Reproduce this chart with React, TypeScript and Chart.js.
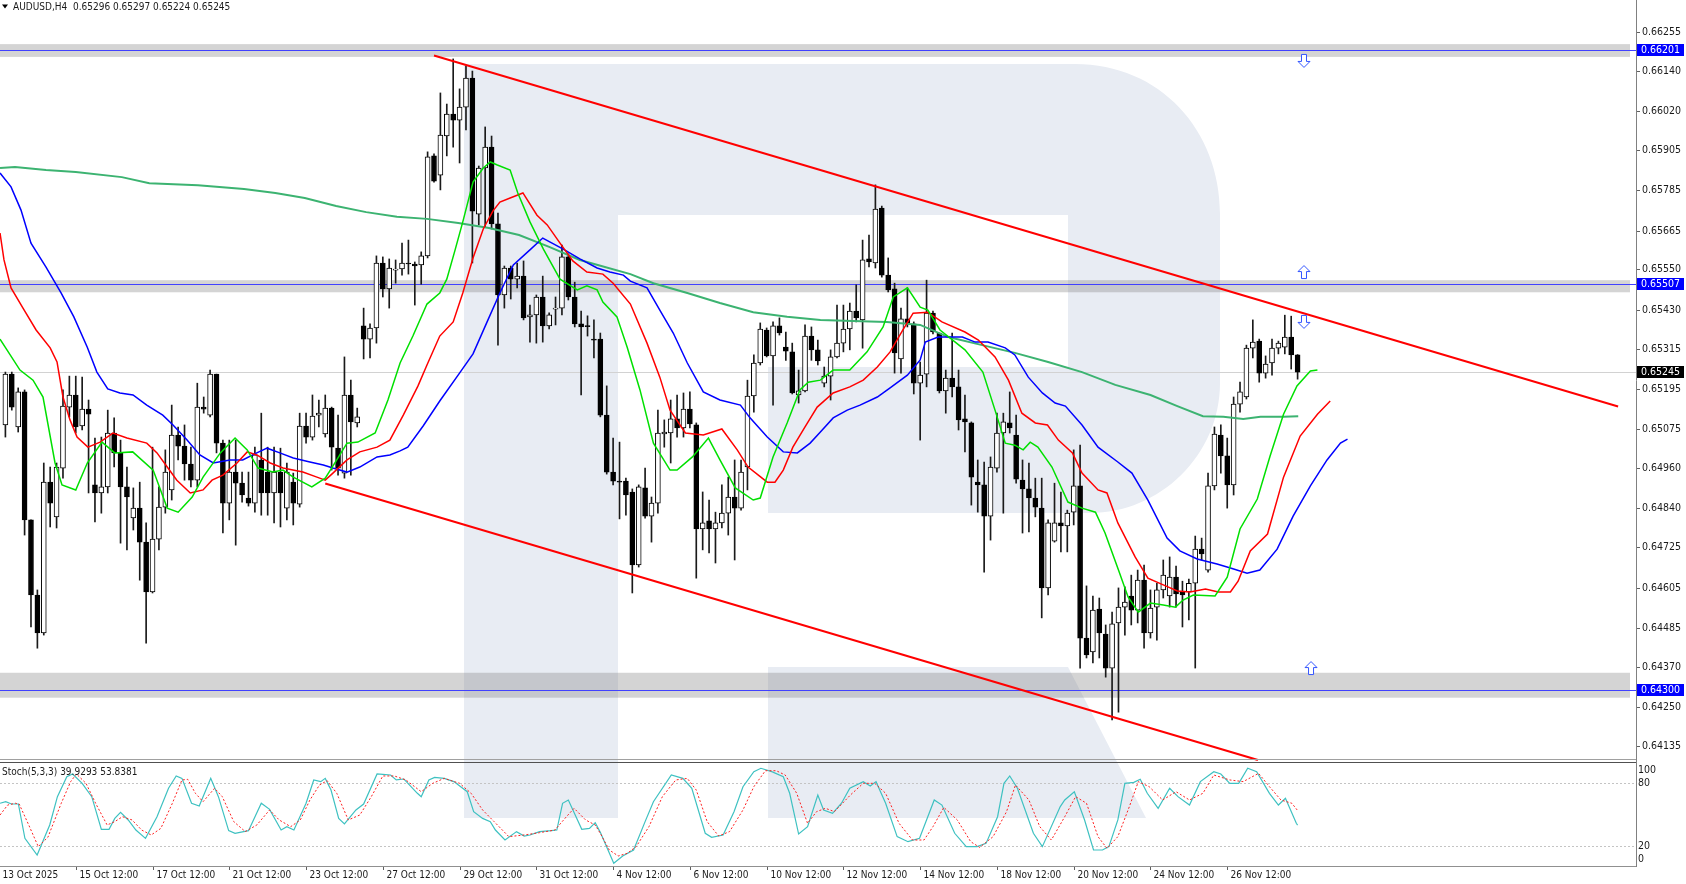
import React, { useEffect, useRef } from "react";
import { Chart, registerables } from "chart.js";

Chart.register(...registerables);

const FONT = "Tahoma, 'DejaVu Sans Condensed', 'Liberation Sans', Arial, sans-serif";

const symbolTitle = "AUDUSD,H4  0.65296 0.65297 0.65224 0.65245";
const stochTitle = "Stoch(5,3,3) 39.9293 53.8381";

// ---- candles (H4 bars, first visible bar index = 1) ----
const firstBar = 1;
const opens = [
  0.65088, 0.65239, 0.65082, 0.65186, 0.64806, 0.64583, 0.6447, 0.64918, 0.64815, 0.6496,
  0.65141, 0.65177, 0.65085, 0.65135, 0.6491, 0.64886, 0.64904, 0.65064, 0.65005, 0.64904,
  0.64812, 0.64841, 0.6474, 0.64592, 0.64749, 0.64844, 0.64895, 0.65058, 0.65025, 0.64972,
  0.64924, 0.65141, 0.65117, 0.65239, 0.65034, 0.64856, 0.64948, 0.64915, 0.64871, 0.64856,
  0.64984, 0.64948, 0.64886, 0.64948, 0.64841, 0.64918, 0.64853, 0.65085, 0.65052, 0.65117,
  0.65061, 0.65138, 0.65019, 0.64945, 0.65177, 0.65094, 0.65382, 0.65343, 0.65376, 0.65569,
  0.65492, 0.65548, 0.65551, 0.65569, 0.65566, 0.65563, 0.6559, 0.65887, 0.6583, 0.65946,
  0.66011, 0.65993, 0.66032, 0.66118, 0.65714, 0.65851, 0.65913, 0.65685, 0.65474, 0.65554,
  0.65521, 0.6553, 0.65409, 0.65415, 0.65468, 0.65382, 0.65432, 0.65435, 0.65587, 0.65468,
  0.65388, 0.65382, 0.65343, 0.65343, 0.65117, 0.64948, 0.64921, 0.64921, 0.64889, 0.64672,
  0.64901, 0.64817, 0.64856, 0.65061, 0.65064, 0.65106, 0.65079, 0.65135, 0.65088, 0.64779,
  0.64803, 0.64779, 0.64797, 0.64826, 0.64874, 0.64841, 0.64963, 0.65174, 0.65272, 0.6537,
  0.65293, 0.65382, 0.65319, 0.65305, 0.65177, 0.65189, 0.65352, 0.65311, 0.65212, 0.65233,
  0.6529, 0.65331, 0.65373, 0.65426, 0.654, 0.65581, 0.65569, 0.65732, 0.65533, 0.65492,
  0.65284, 0.65403, 0.65388, 0.65212, 0.65239, 0.6542, 0.65361, 0.65189, 0.65227, 0.65201,
  0.65106, 0.65094, 0.64918, 0.6491, 0.64817, 0.6496, 0.65064, 0.65094, 0.65058, 0.64924,
  0.64898, 0.64871, 0.64841, 0.64604, 0.64743, 0.64797, 0.64788, 0.64829, 0.64907, 0.64455,
  0.64414, 0.64541, 0.64467, 0.64366, 0.645, 0.64547, 0.6458, 0.64538, 0.64627, 0.6447,
  0.64547, 0.64598, 0.6458, 0.64636, 0.64592, 0.64592, 0.64618, 0.64719, 0.64657, 0.64907,
  0.65058, 0.64996, 0.6491, 0.6515, 0.65171, 0.65316, 0.65337, 0.65242, 0.65272, 0.65316,
  0.65319, 0.65349, 0.65296,
];
const highs = [
  0.65245, 0.65245, 0.65198, 0.65192, 0.64806, 0.64598, 0.64975, 0.64963, 0.64975, 0.65192,
  0.65233, 0.65233, 0.6523, 0.65162, 0.65049, 0.65052, 0.65132, 0.65109, 0.65043, 0.64963,
  0.64901, 0.64918, 0.64797, 0.65022, 0.64904, 0.65014, 0.65147, 0.65082, 0.65088, 0.65022,
  0.65212, 0.65171, 0.65251, 0.65239, 0.65043, 0.65043, 0.65043, 0.64948, 0.64948, 0.65022,
  0.65123, 0.65022, 0.65022, 0.65019, 0.64975, 0.64945, 0.65123, 0.65123, 0.65177, 0.65162,
  0.65177, 0.65141, 0.65117, 0.6529, 0.65221, 0.65138, 0.65435, 0.65388, 0.6559, 0.65587,
  0.65581, 0.65578, 0.65628, 0.65637, 0.65572, 0.65602, 0.65899, 0.65893, 0.66074, 0.66041,
  0.66175, 0.66086, 0.66154, 0.66139, 0.65857, 0.65973, 0.65946, 0.65717, 0.6556, 0.6556,
  0.65569, 0.65575, 0.65444, 0.65474, 0.6553, 0.65421, 0.65468, 0.65622, 0.65596, 0.65512,
  0.65426, 0.65412, 0.654, 0.65361, 0.65204, 0.65049, 0.65037, 0.6493, 0.64898, 0.6491,
  0.6496, 0.64874, 0.65132, 0.65103, 0.65162, 0.65177, 0.65183, 0.65186, 0.65094, 0.64889,
  0.64865, 0.64829, 0.6491, 0.64933, 0.64984, 0.64984, 0.65221, 0.65296, 0.65391, 0.65376,
  0.65394, 0.65406, 0.65364, 0.65331, 0.65251, 0.65385, 0.65379, 0.6534, 0.6526, 0.65311,
  0.65444, 0.65444, 0.6545, 0.65504, 0.65637, 0.65652, 0.65801, 0.65738, 0.65584, 0.65509,
  0.65435, 0.65495, 0.65394, 0.65275, 0.65518, 0.65426, 0.65361, 0.65251, 0.65361, 0.65251,
  0.65177, 0.65097, 0.64984, 0.64978, 0.64993, 0.65123, 0.65123, 0.65186, 0.65117, 0.64984,
  0.64975, 0.6493, 0.6493, 0.64806, 0.64915, 0.64889, 0.64835, 0.65014, 0.65028, 0.6461,
  0.6458, 0.64574, 0.64494, 0.64532, 0.64604, 0.64607, 0.64642, 0.64657, 0.64672, 0.64598,
  0.64618, 0.64687, 0.64696, 0.64669, 0.64624, 0.6463, 0.64758, 0.64752, 0.64945, 0.65082,
  0.65088, 0.65049, 0.65171, 0.65215, 0.65325, 0.654, 0.65343, 0.65293, 0.65343, 0.65337,
  0.65414, 0.65411, 0.65297,
];
const lows = [
  0.65052, 0.65132, 0.65067, 0.64761, 0.64488, 0.64425, 0.64464, 0.64785, 0.64782, 0.6493,
  0.65112, 0.65064, 0.65073, 0.64886, 0.648, 0.64826, 0.64886, 0.64963, 0.64737, 0.64717,
  0.64776, 0.64627, 0.6444, 0.64589, 0.64717, 0.64826, 0.64865, 0.64984, 0.64924, 0.64904,
  0.64904, 0.65123, 0.65112, 0.65005, 0.64767, 0.64806, 0.64731, 0.64859, 0.64847, 0.64829,
  0.6482, 0.6482, 0.64797, 0.64785, 0.64806, 0.64791, 0.64844, 0.65034, 0.65043, 0.65082,
  0.65052, 0.64954, 0.64939, 0.6493, 0.64939, 0.65082, 0.65284, 0.65287, 0.65331, 0.65468,
  0.65435, 0.65509, 0.65533, 0.65536, 0.65444, 0.65506, 0.65584, 0.65809, 0.65786, 0.65887,
  0.65913, 0.65866, 0.65964, 0.65569, 0.65682, 0.65676, 0.6567, 0.65325, 0.65435, 0.65462,
  0.65495, 0.654, 0.65334, 0.65331, 0.65334, 0.65373, 0.65385, 0.65415, 0.65459, 0.65379,
  0.65177, 0.65352, 0.65287, 0.65112, 0.64942, 0.6491, 0.64809, 0.6482, 0.64589, 0.64666,
  0.64811, 0.6474, 0.64826, 0.65022, 0.64975, 0.65052, 0.65052, 0.65079, 0.64633, 0.64717,
  0.64708, 0.64678, 0.64782, 0.64761, 0.64687, 0.64835, 0.64895, 0.65126, 0.65266, 0.6529,
  0.65147, 0.65355, 0.6528, 0.6518, 0.65153, 0.65186, 0.6528, 0.65266, 0.65201, 0.65162,
  0.65287, 0.65305, 0.65311, 0.65394, 0.65316, 0.65557, 0.65554, 0.65527, 0.65483, 0.65242,
  0.65242, 0.65379, 0.6518, 0.65043, 0.65201, 0.65358, 0.65183, 0.65123, 0.65171, 0.65073,
  0.65008, 0.6485, 0.64829, 0.64651, 0.64746, 0.64948, 0.64826, 0.65064, 0.64915, 0.64767,
  0.6477, 0.64815, 0.64515, 0.64583, 0.6474, 0.64711, 0.64711, 0.64791, 0.64366, 0.64396,
  0.64381, 0.64396, 0.64339, 0.64212, 0.64235, 0.64464, 0.64494, 0.645, 0.64425, 0.64455,
  0.64449, 0.64574, 0.64547, 0.64547, 0.64488, 0.64509, 0.64366, 0.64687, 0.64651, 0.64895,
  0.64945, 0.64841, 0.6488, 0.65126, 0.65165, 0.65287, 0.65215, 0.65227, 0.65236, 0.65299,
  0.65299, 0.65254, 0.65224,
];
const closes = [
  0.65239, 0.65141, 0.65186, 0.64806, 0.64583, 0.6447, 0.64918, 0.64856, 0.64963, 0.65144,
  0.65177, 0.65082, 0.65135, 0.6512, 0.64886, 0.64904, 0.65064, 0.65005, 0.64904, 0.64874,
  0.64841, 0.6474, 0.64592, 0.64749, 0.64844, 0.64948, 0.65058, 0.65025, 0.64972, 0.64924,
  0.65141, 0.65135, 0.65239, 0.65034, 0.64856, 0.64948, 0.64915, 0.6488, 0.64856, 0.64999,
  0.64886, 0.64886, 0.64948, 0.64886, 0.64948, 0.64856, 0.65085, 0.65052, 0.65114, 0.65123,
  0.65138, 0.65022, 0.6496, 0.65177, 0.65097, 0.65112, 0.65343, 0.65376, 0.65569, 0.65492,
  0.65554, 0.65551, 0.65569, 0.65566, 0.6556, 0.6559, 0.65884, 0.65812, 0.65949, 0.66011,
  0.65993, 0.66032, 0.66118, 0.65723, 0.65851, 0.65913, 0.65685, 0.65474, 0.65554, 0.65521,
  0.6553, 0.65406, 0.65415, 0.65468, 0.65382, 0.65415, 0.65435, 0.65587, 0.65468, 0.65388,
  0.65379, 0.6538, 0.6534, 0.65117, 0.64948, 0.64921, 0.64918, 0.6488, 0.64672, 0.64904,
  0.64817, 0.64856, 0.65064, 0.65067, 0.65106, 0.65079, 0.65135, 0.65091, 0.64779, 0.64797,
  0.64779, 0.64797, 0.64826, 0.64874, 0.64841, 0.64948, 0.65174, 0.65272, 0.65373, 0.65293,
  0.65382, 0.65361, 0.65307, 0.65183, 0.65189, 0.65352, 0.65311, 0.65278, 0.65233, 0.6529,
  0.65331, 0.65373, 0.65426, 0.65406, 0.65578, 0.65572, 0.65729, 0.65533, 0.65489, 0.65302,
  0.65403, 0.65388, 0.65212, 0.65236, 0.6542, 0.65364, 0.65189, 0.65227, 0.65201, 0.65103,
  0.65097, 0.64933, 0.6491, 0.64817, 0.64963, 0.65064, 0.65097, 0.65079, 0.64927, 0.64898,
  0.64871, 0.64844, 0.64604, 0.64797, 0.64797, 0.64788, 0.64826, 0.64907, 0.64455, 0.64405,
  0.64538, 0.6447, 0.64366, 0.64497, 0.64547, 0.64562, 0.64538, 0.64627, 0.6447, 0.64544,
  0.64598, 0.64642, 0.64636, 0.64586, 0.64583, 0.64618, 0.64719, 0.64705, 0.64907, 0.65061,
  0.64996, 0.6491, 0.6515, 0.65186, 0.65316, 0.65334, 0.65242, 0.65269, 0.65316, 0.65331,
  0.65349, 0.65296, 0.65245,
];

// ---- indicator lines: [bar, value] ----
const lipsLine = [
  [0.16, 0.65343], [3.28, 0.65251], [5.32, 0.65221], [6.88, 0.65171], [8.76, 0.64975], [9.85, 0.6491],
  [12.0, 0.64895], [13.8, 0.64975], [16.1, 0.65037], [18.1, 0.65005], [20.9, 0.65008], [24.1, 0.64954],
  [26.3, 0.64841], [28.0, 0.64829], [30.2, 0.64874], [31.9, 0.64933], [34.6, 0.65005], [36.9, 0.65049],
  [38.8, 0.65014], [40.5, 0.6496], [42.8, 0.64948], [44.4, 0.64954], [46.0, 0.64933], [48.9, 0.64904],
  [51.0, 0.6493], [52.8, 0.64984], [54.4, 0.65034], [56.1, 0.65037], [58.8, 0.65064], [60.8, 0.65162],
  [62.7, 0.65272], [64.7, 0.65352], [66.9, 0.65447], [68.9, 0.6548], [70.0, 0.65521], [71.3, 0.65608],
  [72.5, 0.65691], [74.1, 0.65809], [75.7, 0.65851], [76.8, 0.65869], [77.9, 0.6586], [79.9, 0.65845],
  [81.1, 0.65777], [83.0, 0.65691], [85.1, 0.6561], [87.7, 0.65521], [90.4, 0.65489], [91.9, 0.65501],
  [93.5, 0.65489], [94.4, 0.65453], [96.6, 0.65409], [98.2, 0.65319], [100.2, 0.65192], [102.3, 0.65034],
  [104.9, 0.64954], [106.0, 0.64954], [108.4, 0.64993], [110.9, 0.65049], [112.7, 0.64984], [115.1, 0.64901],
  [117.9, 0.64865], [119.0, 0.64871], [121.0, 0.64993], [123.2, 0.65094], [125.2, 0.65192], [126.5, 0.65215],
  [128.4, 0.65221], [130.4, 0.65251], [133.0, 0.65251], [135.7, 0.65305], [138.2, 0.65379], [139.8, 0.65468],
  [142.0, 0.65495], [144.0, 0.65438], [145.2, 0.65429], [147.1, 0.6537], [151.0, 0.65311], [153.8, 0.65245],
  [155.7, 0.65132], [157.3, 0.65034], [158.8, 0.65028], [160.1, 0.65014], [161.2, 0.65037], [162.4, 0.65022],
  [164.6, 0.64963], [167.1, 0.64859], [169.3, 0.64841], [171.4, 0.64829], [172.9, 0.64767], [175.0, 0.64657],
  [176.5, 0.64577], [178.1, 0.64532], [180.0, 0.64559], [182.0, 0.64553], [183.9, 0.64547], [185.1, 0.64568],
  [186.7, 0.64583], [190.1, 0.6458], [192.0, 0.64636], [194.0, 0.64779], [196.7, 0.64868], [198.7, 0.64996],
  [200.8, 0.6512], [202.9, 0.65204], [205.0, 0.65248], [206.1, 0.65251],
];
const teethLine = [
  [0.16, 0.65658], [0.78, 0.65578], [1.88, 0.65495], [3.75, 0.65435], [5.8, 0.6537], [8.0, 0.65317],
  [9.07, 0.65275], [10.0, 0.65171], [11.1, 0.65103], [12.2, 0.65052], [13.9, 0.65022], [15.8, 0.65037],
  [17.8, 0.65064], [20.0, 0.65049], [23.1, 0.65034], [24.7, 0.65005], [26.3, 0.64963], [27.8, 0.64924],
  [29.9, 0.64886], [31.9, 0.64895], [33.3, 0.64924], [35.0, 0.64939], [37.2, 0.64975], [38.8, 0.65008],
  [40.3, 0.64999], [42.4, 0.64975], [44.4, 0.6496], [47.5, 0.64948], [49.7, 0.64933], [51.0, 0.64924],
  [52.2, 0.64945], [54.4, 0.64984], [56.4, 0.65008], [59.1, 0.65022], [61.1, 0.65043], [63.2, 0.65117],
  [65.5, 0.65204], [66.9, 0.65266], [68.9, 0.65352], [71.0, 0.65394], [72.5, 0.6548], [74.1, 0.65584],
  [75.7, 0.6567], [77.2, 0.65723], [78.3, 0.6575], [79.9, 0.65762], [81.9, 0.65777], [84.1, 0.65711],
  [85.7, 0.65682], [87.7, 0.65628], [89.7, 0.65575], [91.9, 0.65542], [94.4, 0.65536], [96.0, 0.65509],
  [98.7, 0.65447], [101.3, 0.65331], [103.3, 0.6523], [104.9, 0.65132], [107.3, 0.65064], [110.1, 0.65058],
  [113.0, 0.65076], [115.4, 0.65014], [117.1, 0.64963], [120.1, 0.64918], [121.3, 0.64918], [122.6, 0.64954],
  [124.1, 0.65022], [126.0, 0.65082], [127.9, 0.65141], [130.4, 0.65183], [133.0, 0.65201], [135.1, 0.65221],
  [137.3, 0.6526], [139.3, 0.65305], [141.3, 0.6537], [142.9, 0.6542], [145.2, 0.65423], [147.4, 0.65394],
  [151.0, 0.65364], [153.1, 0.6534], [155.7, 0.6529], [157.8, 0.65221], [159.9, 0.65123], [162.0, 0.65094],
  [163.9, 0.65088], [165.6, 0.65043], [167.8, 0.65005], [169.3, 0.64945], [171.8, 0.64895], [173.2, 0.64886],
  [174.9, 0.64797], [177.6, 0.64696], [179.6, 0.64633], [182.0, 0.64613], [184.2, 0.64595], [186.2, 0.64592],
  [188.6, 0.64601], [190.6, 0.64592], [192.5, 0.64592], [193.7, 0.64624], [195.6, 0.64714], [198.3, 0.64764],
  [200.8, 0.64933], [203.4, 0.65055], [206.1, 0.6512], [208.1, 0.65159],
];
const jawLine = [
  [0.16, 0.65836], [1.88, 0.65795], [3.44, 0.65726], [5.0, 0.65628], [7.35, 0.65557], [9.7, 0.6548],
  [11.7, 0.65409], [13.8, 0.65319], [15.3, 0.65245], [17.0, 0.65195], [18.9, 0.65183], [20.95, 0.65177],
  [23.1, 0.65147], [25.6, 0.65117], [27.2, 0.65088], [29.4, 0.65043], [31.4, 0.64999], [33.5, 0.64975],
  [36.1, 0.64984], [38.1, 0.64984], [40.3, 0.65005], [41.9, 0.65019], [43.9, 0.65005], [46.0, 0.6499],
  [48.6, 0.64978], [50.7, 0.64969], [52.2, 0.6496], [54.4, 0.64948], [56.4, 0.64963], [59.1, 0.64993],
  [61.1, 0.64999], [62.7, 0.65011], [63.9, 0.65022], [66.3, 0.65085], [68.9, 0.65159], [72.1, 0.65245],
  [74.1, 0.65299], [76.3, 0.65394], [78.3, 0.6548], [80.4, 0.65563], [83.0, 0.65608], [85.0, 0.65643],
  [88.2, 0.6561], [90.8, 0.65581], [93.5, 0.65554], [95.5, 0.65542], [97.6, 0.65533], [98.7, 0.65515],
  [101.3, 0.65495], [103.3, 0.65429], [105.4, 0.65361], [107.6, 0.65272], [110.1, 0.65186], [112.7, 0.65162],
  [115.9, 0.65147], [117.4, 0.65109], [120.1, 0.65052], [122.6, 0.65008], [124.8, 0.65005], [126.8, 0.65034],
  [128.4, 0.65067], [130.4, 0.65109], [132.6, 0.65132], [134.6, 0.65147], [137.3, 0.65171], [139.3, 0.65198],
  [142.0, 0.65236], [144.0, 0.65281], [144.8, 0.65334], [146.8, 0.65349], [150.6, 0.65349], [152.6, 0.65334],
  [154.6, 0.65334], [157.3, 0.65317], [158.8, 0.65296], [160.9, 0.6523], [163.1, 0.65183], [165.1, 0.65153],
  [166.7, 0.65144], [169.3, 0.65088], [171.8, 0.65022], [174.9, 0.64978], [177.1, 0.64945], [179.6, 0.64865],
  [182.6, 0.64752], [184.6, 0.64714], [187.3, 0.6469], [190.4, 0.64675], [192.5, 0.64663], [195.1, 0.64648],
  [197.1, 0.64657], [199.8, 0.64719], [202.3, 0.64817], [205.0, 0.64907], [207.6, 0.64984], [209.7, 0.65034],
  [210.8, 0.65046],
];
const slowMaLine = [
  [0.16, 0.65851], [2.5, 0.65854], [7.35, 0.65845], [12.0, 0.65839], [19.2, 0.65824], [23.5, 0.65806],
  [31.1, 0.658], [38.3, 0.65789], [43.2, 0.65777], [47.8, 0.65762], [52.7, 0.65738], [57.4, 0.6572],
  [62.2, 0.65706], [66.9, 0.657], [71.8, 0.65688], [76.6, 0.65673], [81.3, 0.65652], [86.1, 0.65616],
  [90.8, 0.65578], [93.6, 0.65563], [98.7, 0.65536], [102.3, 0.65509], [107.6, 0.6548], [112.7, 0.6545],
  [117.9, 0.65423], [123.2, 0.65409], [128.4, 0.654], [133.5, 0.65397], [138.8, 0.65394], [144.0, 0.65385],
  [148.4, 0.65349], [153.7, 0.65325], [158.8, 0.65302], [164.0, 0.65275], [169.3, 0.65245], [174.5, 0.65207],
  [180.0, 0.65177], [184.2, 0.65144], [188.2, 0.65114], [191.4, 0.65112], [194.5, 0.65106], [197.2, 0.65112],
  [200.8, 0.65112], [203.1, 0.65114],
];
const upperTrend = [[68.0, 0.66185], [253.1, 0.65143]];
const lowerTrend = [[51.0, 0.64914], [196.8, 0.64093]];

// ---- stochastic %K and %D ----
const stochK = [
  [0.16, 60.7], [1.05, 62.2], [1.95, 60], [3.03, 60], [4.05, 27.3], [5.96, 11.4], [7.93, 40], [9.13, 67],
  [10.6, 86], [11.5, 88.6], [13.0, 79.7], [14.5, 67], [16.0, 35.9], [17.2, 35.9], [18.1, 46.3], [19.0, 52],
  [20.2, 44.8], [21.4, 35.2], [22.9, 27.3], [24.7, 47.9], [26.5, 75], [27.7, 86.7], [28.6, 84.4], [30.1, 60.7],
  [31.3, 58.1], [33.1, 84.4], [34.3, 67], [35.9, 34.6], [36.9, 32.1], [39.0, 34.6], [41.0, 60.7], [42.3, 54.9],
  [44.1, 35.2], [45.0, 38.4], [46.1, 35.2], [48.0, 60.7], [49.2, 82.9], [50.3, 81.3], [51.0, 84.4], [51.9, 73.3],
  [53.1, 46.3], [54.0, 41], [55.8, 54.3], [57.0, 60], [59.1, 88.6], [60.0, 88.3], [61.2, 87.6], [62.1, 82.9],
  [63.3, 83.8], [65.4, 70.2], [66.0, 67], [67.2, 82.9], [68.1, 85.4], [69.6, 84.4], [71.1, 81.3], [73.2, 71.7],
  [74.2, 52.7], [75.6, 46.3], [76.8, 43.2], [77.6, 35.2], [79.1, 25.7], [80.9, 33.7], [82.1, 29.5], [83.0, 30.5],
  [84.5, 33.7], [86.3, 34.6], [87.2, 35.2], [88.1, 60.7], [89.0, 63.8], [91.1, 35.9], [92.3, 36.8], [93.2, 42.2],
  [94.0, 33], [96.1, 3.5], [97.5, 10.5], [99.2, 16.2], [101.0, 43.2], [102.3, 62.2], [105.1, 87.6], [106.9, 84.4],
  [108.3, 75], [110.4, 32.1], [111.4, 28.3], [113.2, 30.5], [114.9, 52.7], [116.3, 76.5], [118.0, 90.8], [119.1, 94],
  [120.8, 90.8], [122.6, 86], [123.6, 70.2], [125.0, 31.4], [126.4, 38.4], [128.0, 68.6], [128.9, 54.3], [130.3, 51.1],
  [131.7, 60.7], [133.0, 75], [135.1, 81.3], [136.2, 77.1], [137.1, 81.3], [138.6, 60.7], [140.4, 28.9], [142.1, 24.1],
  [143.9, 27.3], [146.2, 63.8], [147.4, 59], [149.4, 32.1], [151.2, 19.4], [152.9, 19.4], [154.3, 22.5], [156.1, 47.9],
  [157.1, 79.7], [158.0, 86.7], [159.2, 75], [161.7, 32.1], [163.1, 19.4], [165.9, 57.5], [166.6, 63.8], [168.1, 71.7],
  [169.7, 44.8], [171.1, 16.2], [172.5, 16.2], [173.5, 19.4], [174.9, 44.8], [176.0, 79.7], [177.4, 80.6], [178.4, 83.5],
  [179.5, 70.2], [181.2, 55.9], [183.0, 75], [184.3, 67], [186.1, 59], [187.8, 81.3], [189.9, 90.8], [191.0, 88.6],
  [192.4, 79.7], [193.8, 79.7], [195.2, 94], [196.6, 90.8], [198.6, 70.2], [200.0, 59], [201.1, 65.4], [202.8, 41.6],
  [203.0, 39.9],
];
const stochD = [
  [0.16, 49.5], [1.35, 59], [2.55, 60.7], [3.15, 60], [4.65, 40], [6.14, 19.4], [7.64, 28.3], [9.73, 60.7],
  [11.2, 81.3], [12.1, 88.6], [13.6, 79.7], [15.1, 60.7], [16.9, 40], [18.1, 43.2], [19.3, 47.9], [20.8, 44.8],
  [22.3, 35.2], [23.8, 30.5], [25.3, 36.8], [27.1, 60.7], [28.6, 82.9], [29.5, 83.5], [30.7, 70.2], [31.9, 62.2],
  [33.7, 75], [34.9, 67], [36.7, 43.2], [38.5, 33.7], [40.3, 40], [42.3, 54.3], [43.8, 44.8], [45.6, 38.4],
  [47.1, 44.8], [48.6, 63.8], [50.1, 78.1], [51.3, 82.2], [52.8, 70.2], [54.6, 44.8], [56.4, 49.5], [58.2, 67],
  [60.0, 86.7], [61.8, 86.7], [63.6, 82.9], [66.0, 71.7], [67.8, 79.7], [69.6, 84.4], [72.0, 79.7], [73.8, 70.2],
  [75.6, 54.3], [77.4, 43.2], [79.7, 28.9], [82.1, 30.5], [84.5, 32.7], [86.9, 35.2], [88.7, 47.9], [89.9, 55.9],
  [91.7, 44.8], [93.2, 40], [94.0, 32], [95.4, 16.2], [96.8, 10.5], [98.2, 13], [99.6, 19.4], [101.6, 38.4],
  [103.7, 67], [105.8, 82.9], [107.6, 84.4], [109.0, 73.3], [110.7, 43.2], [112.5, 29.5], [114.2, 33.7], [116.3, 54.3],
  [118.0, 76.5], [119.8, 91.7], [121.5, 91.7], [122.9, 87.6], [124.7, 70.2], [126.4, 41.6], [127.8, 52.7], [129.2, 55.9],
  [130.6, 52.7], [133.1, 68.6], [135.1, 79.7], [136.9, 79.7], [138.6, 70.2], [140.7, 41.6], [142.8, 25.7], [144.6, 25.7],
  [146.0, 38.4], [147.7, 56.8], [149.8, 44.8], [151.9, 24.1], [153.3, 18.7], [155.4, 28.9], [157.5, 52.7], [158.9, 78.1],
  [161.0, 63.8], [162.7, 38.4], [164.5, 25.7], [166.6, 47.9], [168.3, 67], [170.0, 60.7], [171.8, 28.9], [173.2, 17.8],
  [174.9, 28.9], [176.7, 57.5], [178.1, 81.3], [179.8, 76.5], [181.9, 63.8], [184.0, 71.7], [186.1, 63.8], [188.2, 70.2],
  [189.9, 87.6], [192.4, 82.9], [194.5, 81.3], [196.9, 89.2], [198.6, 76.5], [200.4, 63.8], [202.1, 60.7], [203.0, 53.8],
];

// ---- axes, levels, marks ----
const priceTicks = [
  0.66255, 0.6614, 0.6602, 0.65905, 0.65785, 0.65665, 0.6555, 0.6543, 0.65315, 0.65195,
  0.65075, 0.6496, 0.6484, 0.64725, 0.64605, 0.64485, 0.6437, 0.6425, 0.64135,
];
const levelPrices = [0.66201, 0.65507, 0.643];
const bandHighs = [0.66219, 0.65518, 0.64352];
const bandLows = [0.66181, 0.65482, 0.64278];
const currentPrice = 0.65245;
const arrowBars = [204, 204, 204, 205.1];
const arrowPrices = [0.66169, 0.65542, 0.65394, 0.64366];
const arrowDirs = ["down", "up", "down", "up"];
const timeBars = [0, 12, 24, 36, 48, 60, 72, 84, 96, 108, 120, 132, 144, 156, 168, 180, 192];
const timeLabels = [
  "13 Oct 2025", "15 Oct 12:00", "17 Oct 12:00", "21 Oct 12:00", "23 Oct 12:00", "27 Oct 12:00",
  "29 Oct 12:00", "31 Oct 12:00", "4 Nov 12:00", "6 Nov 12:00", "10 Nov 12:00", "12 Nov 12:00",
  "14 Nov 12:00", "18 Nov 12:00", "20 Nov 12:00", "24 Nov 12:00", "26 Nov 12:00",
];
const stochAxisValues = [100, 80, 20, 0];
const stochLevels = [80, 20];

const X_MIN = 0.156;
const X_MAX = 255.9;
const PRICE_MIN = 0.6409;
const PRICE_MAX = 0.6635;

const MAIN_H = 761;
const STOCH_TOP = 761;
const STOCH_H = 123;

function drawWatermark(ctx: CanvasRenderingContext2D, offsetY: number) {
  ctx.save();
  ctx.translate(0, -offsetY);
  ctx.fillStyle = "#E8ECF3";
  ctx.fillRect(464, 64, 154, 754);
  ctx.beginPath();
  ctx.moveTo(464, 64);
  ctx.lineTo(1075, 64);
  ctx.bezierCurveTo(1160, 64, 1220, 130, 1220, 214);
  ctx.lineTo(1220, 383);
  ctx.bezierCurveTo(1220, 455, 1160, 513, 1090, 513);
  ctx.lineTo(768, 513);
  ctx.lineTo(768, 367);
  ctx.lineTo(1068, 367);
  ctx.lineTo(1068, 215);
  ctx.lineTo(464, 215);
  ctx.closePath();
  ctx.fill();
  ctx.beginPath();
  ctx.moveTo(768, 667);
  ctx.lineTo(1068, 667);
  ctx.lineTo(1146, 818);
  ctx.lineTo(768, 818);
  ctx.closePath();
  ctx.fill();
  ctx.restore();
}

function drawArrow(ctx: CanvasRenderingContext2D, cx: number, cy: number, dir: string) {
  const w = 12, h = 13, sw = 5, hh = 6;
  const top = cy - h / 2, bottom = cy + h / 2;
  ctx.beginPath();
  if (dir === "down") {
    const mid = bottom - hh;
    ctx.moveTo(cx - sw / 2, top);
    ctx.lineTo(cx + sw / 2, top);
    ctx.lineTo(cx + sw / 2, mid);
    ctx.lineTo(cx + w / 2, mid);
    ctx.lineTo(cx, bottom);
    ctx.lineTo(cx - w / 2, mid);
    ctx.lineTo(cx - sw / 2, mid);
  } else {
    const mid = top + hh;
    ctx.moveTo(cx - sw / 2, bottom);
    ctx.lineTo(cx + sw / 2, bottom);
    ctx.lineTo(cx + sw / 2, mid);
    ctx.lineTo(cx + w / 2, mid);
    ctx.lineTo(cx, top);
    ctx.lineTo(cx - w / 2, mid);
    ctx.lineTo(cx - sw / 2, mid);
  }
  ctx.closePath();
  ctx.fillStyle = "#ffffff";
  ctx.fill();
  ctx.strokeStyle = "#3355FF";
  ctx.lineWidth = 1;
  ctx.stroke();
}

const mainDecor = {
  id: "mainDecor",
  beforeDatasetsDraw(chart: any) {
    const { ctx, chartArea: a, scales } = chart;
    const y = scales.y;
    ctx.save();
    drawWatermark(ctx, 0);
    ctx.fillStyle = "rgba(128,128,128,0.34)";
    levelPrices.forEach((_, k) => {
      const t = y.getPixelForValue(bandHighs[k]);
      const b = y.getPixelForValue(bandLows[k]);
      ctx.fillRect(a.left, t, a.right - 6 - a.left, b - t);
    });
    ctx.strokeStyle = "#D2D2D2";
    ctx.lineWidth = 1;
    const cp = Math.round(y.getPixelForValue(currentPrice)) + 0.5;
    ctx.beginPath();
    ctx.moveTo(a.left, cp);
    ctx.lineTo(a.right, cp);
    ctx.stroke();
    ctx.strokeStyle = "#4040FF";
    levelPrices.forEach((p) => {
      const py = Math.round(y.getPixelForValue(p)) + 0.5;
      ctx.beginPath();
      ctx.moveTo(a.left, py);
      ctx.lineTo(a.right, py);
      ctx.stroke();
    });
    ctx.restore();
  },
  afterDraw(chart: any) {
    const { ctx, chartArea: a, scales } = chart;
    const x = scales.x;
    const y = scales.y;
    ctx.save();
    arrowBars.forEach((b, k) => {
      drawArrow(ctx, x.getPixelForValue(b), y.getPixelForValue(arrowPrices[k]), arrowDirs[k]);
    });
    ctx.strokeStyle = "#808080";
    ctx.lineWidth = 1;
    ctx.beginPath();
    ctx.moveTo(a.right + 0.5, 0);
    ctx.lineTo(a.right + 0.5, chart.height);
    ctx.stroke();
    ctx.strokeStyle = "#A0A0A0";
    ctx.beginPath();
    ctx.moveTo(0, a.bottom - 1.5);
    ctx.lineTo(a.right, a.bottom - 1.5);
    ctx.stroke();
    ctx.font = `10.5px ${FONT}`;
    ctx.textBaseline = "middle";
    ctx.textAlign = "left";
    ctx.strokeStyle = "#606060";
    priceTicks.forEach((p) => {
      const py = Math.round(y.getPixelForValue(p)) + 0.5;
      ctx.beginPath();
      ctx.moveTo(a.right + 1, py);
      ctx.lineTo(a.right + 4, py);
      ctx.stroke();
      ctx.fillStyle = "#1a1a1a";
      ctx.fillText(p.toFixed(5), a.right + 6, py);
    });
    levelPrices.forEach((p) => {
      const py = Math.round(y.getPixelForValue(p));
      ctx.fillStyle = "#0000FF";
      ctx.fillRect(a.right + 1, py - 6, 47, 12);
      ctx.fillStyle = "#ffffff";
      ctx.fillText(p.toFixed(5), a.right + 5, py + 0.5);
    });
    const cp = Math.round(y.getPixelForValue(currentPrice));
    ctx.fillStyle = "#000000";
    ctx.fillRect(a.right + 1, cp - 6, 47, 12);
    ctx.fillStyle = "#ffffff";
    ctx.fillText(currentPrice.toFixed(5), a.right + 5, cp + 0.5);
    // title
    ctx.fillStyle = "#000000";
    ctx.beginPath();
    ctx.moveTo(2, 4.5);
    ctx.lineTo(8, 4.5);
    ctx.lineTo(5, 8.5);
    ctx.closePath();
    ctx.fill();
    ctx.font = `10px ${FONT}`;
    ctx.fillStyle = "#1a1a1a";
    ctx.fillText(symbolTitle, 13, 7);
    ctx.restore();
  },
};

const stochDecor = {
  id: "stochDecor",
  beforeDatasetsDraw(chart: any) {
    const { ctx, chartArea: a, scales } = chart;
    const y = scales.y;
    ctx.save();
    drawWatermark(ctx, STOCH_TOP);
    ctx.strokeStyle = "#C4C4C4";
    ctx.lineWidth = 1;
    ctx.setLineDash([2, 2]);
    stochLevels.forEach((v) => {
      const py = Math.round(y.getPixelForValue(v)) + 0.5;
      ctx.beginPath();
      ctx.moveTo(a.left, py);
      ctx.lineTo(a.right, py);
      ctx.stroke();
    });
    ctx.restore();
  },
  afterDraw(chart: any) {
    const { ctx, chartArea: a, scales } = chart;
    const x = scales.x;
    const y = scales.y;
    ctx.save();
    ctx.lineWidth = 1;
    ctx.strokeStyle = "#505050";
    ctx.beginPath();
    ctx.moveTo(0, a.top + 0.5);
    ctx.lineTo(a.right, a.top + 0.5);
    ctx.stroke();
    ctx.strokeStyle = "#909090";
    ctx.beginPath();
    ctx.moveTo(0, a.bottom - 0.5);
    ctx.lineTo(a.right, a.bottom - 0.5);
    ctx.stroke();
    ctx.strokeStyle = "#808080";
    ctx.beginPath();
    ctx.moveTo(a.right + 0.5, 0);
    ctx.lineTo(a.right + 0.5, a.bottom);
    ctx.stroke();
    ctx.font = `10.5px ${FONT}`;
    ctx.fillStyle = "#1a1a1a";
    ctx.textAlign = "left";
    ctx.textBaseline = "middle";
    stochAxisValues.forEach((v) => {
      let py = y.getPixelForValue(v);
      py = Math.min(Math.max(py, a.top + 8), a.bottom - 8);
      ctx.fillText(String(v), a.right + 2, py);
    });
    ctx.font = `10px ${FONT}`;
    ctx.fillText(stochTitle, 2, a.top + 10);
    ctx.strokeStyle = "#606060";
    timeBars.forEach((b, k) => {
      const px = Math.round(x.getPixelForValue(b)) + 0.5;
      ctx.beginPath();
      ctx.moveTo(px, a.bottom);
      ctx.lineTo(px, a.bottom + 3);
      ctx.stroke();
      ctx.fillText(timeLabels[k], px + 3, a.bottom + 8);
    });
    ctx.restore();
  },
};

const toPoints = (arr: number[][]) => arr.map(([bx, v]) => ({ x: bx, y: v }));

export default function App() {
  const mainRef = useRef<HTMLCanvasElement>(null);
  const stochRef = useRef<HTMLCanvasElement>(null);

  useEffect(() => {
    document.body.style.margin = "0";
    document.body.style.background = "#ffffff";
    const barIdx = opens.map((_, k) => firstBar + k);
    const wickData = barIdx.map((bx, k) => ({ x: bx, y: [lows[k], highs[k]] }));
    const bodyData = barIdx.map((bx, k) => ({
      x: bx,
      y: [Math.min(opens[k], closes[k]), Math.max(opens[k], closes[k])],
    }));
    const bodyColors = barIdx.map((_, k) => (closes[k] >= opens[k] ? "#ffffff" : "#000000"));

    const main = new Chart(mainRef.current as HTMLCanvasElement, {
      type: "bar",
      data: {
        datasets: [
          { type: "line", data: toPoints(upperTrend), borderColor: "#FF0000", borderWidth: 2, pointRadius: 0, order: 0 } as any,
          { type: "line", data: toPoints(lowerTrend), borderColor: "#FF0000", borderWidth: 2, pointRadius: 0, order: 0 } as any,
          { type: "line", data: toPoints(lipsLine), borderColor: "#00E000", borderWidth: 1.5, pointRadius: 0, order: 1 } as any,
          { type: "line", data: toPoints(teethLine), borderColor: "#FF0000", borderWidth: 1.5, pointRadius: 0, order: 2 } as any,
          { type: "line", data: toPoints(jawLine), borderColor: "#0000FF", borderWidth: 1.5, pointRadius: 0, order: 3 } as any,
          { type: "line", data: toPoints(slowMaLine), borderColor: "#3CB371", borderWidth: 2, pointRadius: 0, order: 4 } as any,
          {
            type: "bar", data: bodyData, backgroundColor: bodyColors, borderColor: "#000000", borderWidth: 1,
            borderSkipped: false, barThickness: 5, grouped: false, minBarLength: 1, order: 10,
          } as any,
          {
            type: "bar", data: wickData, backgroundColor: "#1a1a1a", borderWidth: 0,
            barThickness: 1, grouped: false, order: 11,
          } as any,
        ],
      },
      options: {
        animation: false,
        responsive: false,
        maintainAspectRatio: false,
        events: [],
        layout: { padding: { left: 0, right: 50, top: 0, bottom: 0 } },
        plugins: { legend: { display: false }, tooltip: { enabled: false } },
        scales: {
          x: { type: "linear", min: X_MIN, max: X_MAX, display: false, offset: false },
          y: { type: "linear", min: PRICE_MIN, max: PRICE_MAX, display: false },
        },
      } as any,
      plugins: [mainDecor],
    });

    const stoch = new Chart(stochRef.current as HTMLCanvasElement, {
      type: "line",
      data: {
        datasets: [
          { data: toPoints(stochK), borderColor: "#3EC1C1", borderWidth: 1.2, pointRadius: 0, order: 1 },
          { data: toPoints(stochD), borderColor: "#FF2020", borderWidth: 1, borderDash: [2, 2], pointRadius: 0, order: 0 },
        ] as any,
      },
      options: {
        animation: false,
        responsive: false,
        maintainAspectRatio: false,
        events: [],
        layout: { padding: { left: 0, right: 50, top: 1, bottom: 17 } },
        plugins: { legend: { display: false }, tooltip: { enabled: false } },
        scales: {
          x: { type: "linear", min: X_MIN, max: X_MAX, display: false, offset: false },
          y: { type: "linear", min: 0, max: 100, display: false },
        },
      } as any,
      plugins: [stochDecor],
    });

    return () => {
      main.destroy();
      stoch.destroy();
    };
  }, []);

  return (
    <div style={{ position: "relative", width: 1686, height: 884, overflow: "hidden", background: "#ffffff" }}>
      <canvas
        ref={mainRef}
        width={1686}
        height={MAIN_H}
        style={{ position: "absolute", left: 0, top: 0, width: 1686, height: MAIN_H }}
      />
      <canvas
        ref={stochRef}
        width={1686}
        height={STOCH_H}
        style={{ position: "absolute", left: 0, top: STOCH_TOP, width: 1686, height: STOCH_H }}
      />
    </div>
  );
}
